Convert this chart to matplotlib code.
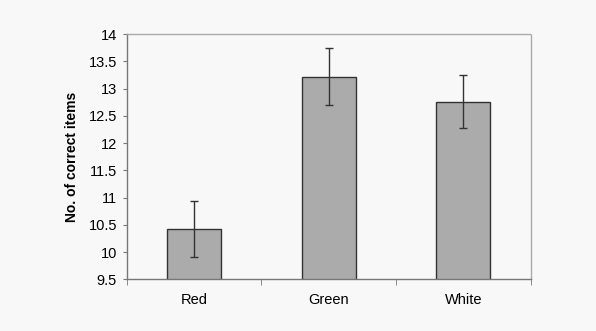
import matplotlib
matplotlib.use("Agg")
import matplotlib.pyplot as plt
import numpy as np

categories = ["Red", "Green", "White"]
values = [10.42, 13.22, 12.76]
errors = [0.52, 0.52, 0.49]
yticks = [9.5, 10, 10.5, 11, 11.5, 12, 12.5, 13, 13.5, 14]
ytick_labels = ["9.5", "10", "10.5", "11", "11.5", "12", "12.5", "13", "13.5", "14"]

plt.rcParams['font.family'] = ['Liberation Sans', 'DejaVu Sans']

fig = plt.figure(figsize=(5.96, 3.31), dpi=100, facecolor="#f8f8f8")
ax = fig.add_axes([126.7/596, 1 - 279.3/331, 404/596, (279.3-34)/331])
ax.set_facecolor("#f8f8f8")

x = np.arange(len(categories))
ax.bar(x, values, width=0.4, color="#ababab", edgecolor="#333333", linewidth=1.0, zorder=2)
ax.errorbar(x, values, yerr=errors, fmt="none", ecolor="#333333", elinewidth=1.0,
            capsize=2.7, capthick=1.0, zorder=3)

ax.set_xlim(-0.5, 2.5)
ax.set_ylim(9.5, 14)
ax.set_yticks(yticks)
ax.set_yticklabels(ytick_labels, fontsize=10.5)
ax.set_xticks(x)
ax.set_xticklabels(categories, fontsize=10.5)
ax.tick_params(axis="x", length=0, pad=10)
ax.set_xticks([-0.5, 0.5, 1.5, 2.5], minor=True)
ax.tick_params(axis="x", which="minor", length=4, color="#777777", direction="out")
ax.tick_params(axis="y", length=3, color="#777777", direction="out", pad=4)

for s in ["top", "right"]:
    ax.spines[s].set_color("#aaaaaa")
    ax.spines[s].set_linestyle((0, (2, 1)))
    ax.spines[s].set_linewidth(1.0)
ax.spines["left"].set_color("#777777")
ax.spines["bottom"].set_color("#777777")
ax.spines["left"].set_linewidth(1.0)
ax.spines["bottom"].set_linewidth(1.0)

ax.set_ylabel("No. of correct items", fontsize=10, fontweight="bold", labelpad=7)

fig.savefig("out.png", dpi=100, facecolor=fig.get_facecolor())
